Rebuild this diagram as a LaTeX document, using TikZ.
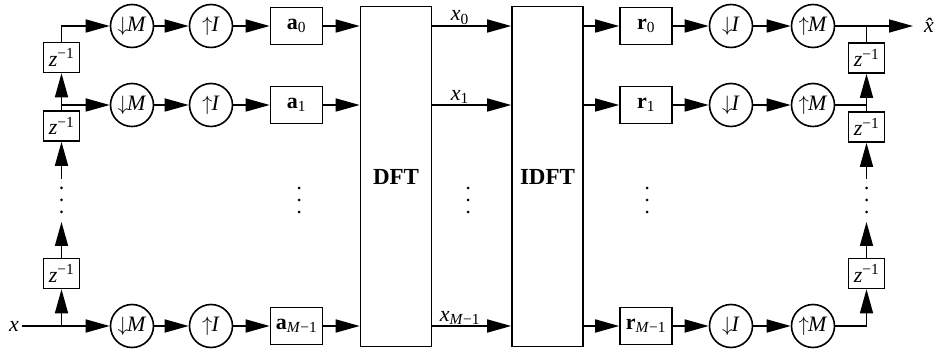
\documentclass[tikz,border=0pt]{standalone}
\usepackage{fontspec}
\setmainfont{Liberation Serif}
\usetikzlibrary{arrows.meta,calc}
\newcommand{\dnar}{$\downarrow$\kern-1pt}
\newcommand{\upar}{$\uparrow$\kern-1pt}
\begin{document}
\begin{tikzpicture}[x=1pt,y=-1pt,
  every node/.style={font=\fontsize{22}{26}\selectfont},
  ln/.style={line width=1.6pt},
  ar/.style={ln,-{Triangle[length=24pt,width=13pt]}},
  circ/.style={draw,ln,circle,minimum size=43pt,inner sep=0pt},
  blk/.style={draw,ln,minimum width=52pt,minimum height=37pt,inner sep=0pt},
  zbox/.style={draw,ln,minimum width=36pt,minimum height=30pt,inner sep=0pt},
  big/.style={draw,ln,minimum width=71pt,minimum height=340pt,inner sep=0pt,font=\fontsize{23}{27}\selectfont\bfseries},
  dot/.style={fill,circle,inner sep=0pt,minimum size=3pt}
]
\useasboundingbox (0,0) rectangle (937,352);
\node[big] (dft) at (396,176.5) {DFT};
\node[big] (idft) at (547.5,176.5) {IDFT};
\foreach \i/\y/\s in {0/26/0,1/105/1,2/326/\textit{M}−1}{
  \node[circ] (dM\i) at (132,\y) {\dnar\textit{M}};
  \node[circ] (uI\i) at (211,\y) {\upar\textit{I}};
  \node[blk] (a\i) at (296.5,\y) {\textbf{a}\textsubscript{\s}};
  \node[blk] (r\i) at (646,\y) {\textbf{r}\textsubscript{\s}};
  \node[circ] (dI\i) at (731,\y) {\dnar\textit{I}};
  \node[circ] (uM\i) at (813,\y) {\upar\textit{M}};
  \draw[ar] (dM\i) -- (uI\i);
  \draw[ar] (uI\i) -- (a\i);
  \draw[ar] (a\i) -- (a\i -| dft.west);
  \draw[ar] (dft.east |- a\i) -- (idft.west |- a\i) node[pos=0.35,above,inner sep=1pt] {\textit{x}\textsubscript{\s}};
  \draw[ar] (idft.east |- r\i) -- (r\i);
  \draw[ar] (r\i) -- (dI\i);
  \draw[ar] (dI\i) -- (uM\i);
}
% left delay chain
\node[zbox] (lz1) at (61.5,57.5) {\textit{z}\textsuperscript{−1}};
\node[zbox] (lz2) at (61.5,126) {\textit{z}\textsuperscript{−1}};
\node[zbox] (lz3) at (61.5,273.5) {\textit{z}\textsuperscript{−1}};
\node (xin) at (14,326) {\textit{x}};
\coordinate (lb2) at (61.5,179);
\coordinate (lt3) at (61.5,222);
\draw[ar] (xin) -- (dM2);
\draw[ar] (lz3 |- dM2) -- (lz3);
\draw[ar] (lz3) -- (lt3);
\draw[ar] (lb2) -- (lz2);
\draw[ar] (lz2) -- (lz1);
\draw[ar] (lz1.north) |- (dM0.west);
\draw[ar] (lz1 |- dM1) -- (dM1);
% right delay chain
\node[zbox] (rz1) at (866.5,58) {\textit{z}\textsuperscript{−1}};
\node[zbox] (rz2) at (866.5,127) {\textit{z}\textsuperscript{−1}};
\node[zbox] (rz3) at (866.5,273.5) {\textit{z}\textsuperscript{−1}};
\coordinate (xo) at (913,26);
\node[anchor=west,inner sep=0pt] (xhat) at (924,25) {\textit{\^{x}}};
\coordinate (rb2) at (866.5,179);
\coordinate (rt3) at (866.5,222);
\draw[ar] (uM0) -- (xo);
\draw[ln] (rz1.north) -- (rz1.north |- uM0);
\draw[ar] (rz2) -- (rz1);
\draw[ln] (uM1) -- (rz1 |- uM1);
\draw[ar] (rb2) -- (rz2);
\draw[ar] (uM2) -| (rz3);
\draw[ar] (rz3) -- (rt3);
% dots
\foreach \x in {61.5,299,468,647,866.5}{
  \foreach \yy in {188,200,212}{
    \node[dot] at (\x,\yy) {};
  }
}
\end{tikzpicture}
\end{document}
